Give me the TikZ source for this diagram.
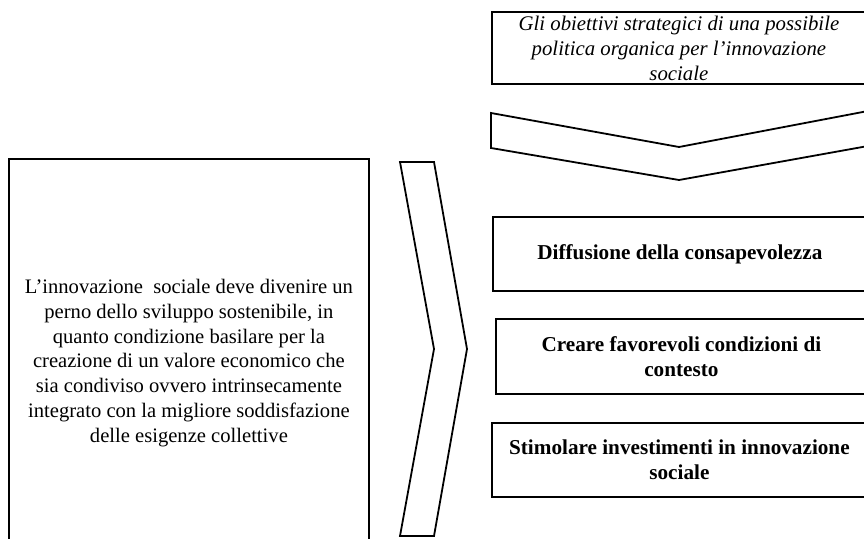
\documentclass[tikz,border=0pt]{standalone}
\usepackage{fontspec}
\setmainfont{Liberation Serif}
\begin{document}
\begin{tikzpicture}[x=1pt,y=-1pt,
  frame/.style={draw=black, line width=1.8pt, line join=miter},
  boxnode/.style={frame, anchor=north west, inner sep=0pt, align=center},
  chev/.style={draw=black, line width=1.8pt, line join=miter, fill=white}]
\useasboundingbox (0,0) rectangle (864,538);
\clip (0,0) rectangle (864,538);

% heading box with italic title
\node[boxnode, minimum width=374pt, minimum height=72pt] (head) at (491,11) {};
\node[align=center, inner sep=0pt, font=\fontsize{20.8}{25}\selectfont\itshape]
  (headtext) at ([yshift=-0.5pt]head.center)
  {Gli obiettivi strategici di una possibile\\politica organica per l’innovazione\\sociale};

% downward chevron below the heading
\draw[chev] (491,113) -- (679,147) -- (868,111) -- (868,146) -- (679,180) -- (491,148) -- cycle;

% left statement box
\node[boxnode, minimum width=360pt, minimum height=408pt,
      font=\fontsize{20.6}{24.8}\selectfont] (stmt) at (8,158)
  {L’innovazione\ \ sociale deve divenire un\\perno dello sviluppo sostenibile, in\\quanto condizione basilare per la\\creazione di un valore economico che\\sia condiviso ovvero intrinsecamente\\integrato con la migliore soddisfazione\\delle esigenze collettive};

% rightward chevron between the columns
\draw[chev] (400,162) -- (434,162) -- (467,349) -- (434,536) -- (400,536) -- (434,349) -- cycle;

% objective boxes
\node[boxnode, minimum width=374pt, minimum height=74pt,
      font=\fontsize{21.2}{25}\selectfont\bfseries] (obj1) at (492,216)
  {Diffusione della consapevolezza};
\node[boxnode, minimum width=371pt, minimum height=75pt,
      font=\fontsize{21.2}{25}\selectfont\bfseries] (obj2) at (495,318)
  {Creare favorevoli condizioni di\\contesto};
\node[boxnode, minimum width=375pt, minimum height=74pt,
      font=\fontsize{21.2}{25}\selectfont\bfseries] (obj3) at (491,422)
  {Stimolare investimenti in innovazione\\sociale};
\end{tikzpicture}
\end{document}
